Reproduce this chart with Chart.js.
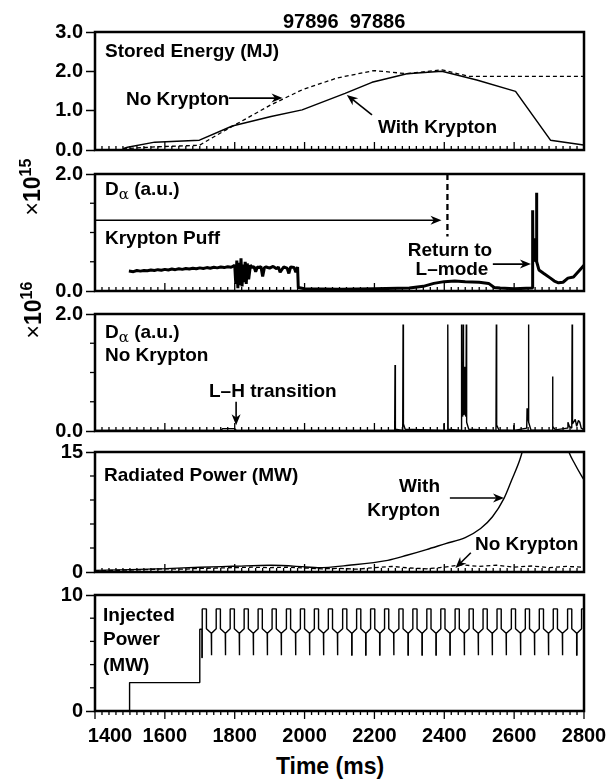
<!DOCTYPE html>
<html>
<head>
<meta charset="utf-8">
<script src="https://cdn.jsdelivr.net/npm/chart.js@4.4.1/dist/chart.umd.min.js"></script>
<style>
  body { margin: 0; background: #fff; width: 608px; height: 781px; overflow: hidden; position: relative;
         font-family: "Liberation Sans", Arial, sans-serif; font-weight: bold; color: #000; }
  canvas { position: absolute; left: 0; }
  .t { position: absolute; font-size: 19px; line-height: 1; white-space: nowrap; transform: translateY(-50%); }
  .r { transform: translate(-100%, -50%); }
  .c { transform: translate(-50%, -50%); }
  .t sub { font-size: 15px; font-weight: normal; font-family: "DejaVu Serif", serif; vertical-align: -4px; }
  .rot { position: absolute; font-size: 23px; line-height: 1; white-space: nowrap; transform: translate(-50%, -50%) rotate(-90deg); }
  .rot span.x { font-weight: normal; }
  .rot sup { font-size: 16px; vertical-align: 9px; }
</style>
</head>
<body>
<canvas id="c1" width="608" height="150"></canvas>
<canvas id="c2" width="608" height="149"></canvas>
<canvas id="c3" width="608" height="149"></canvas>
<canvas id="c4" width="608" height="152"></canvas>
<canvas id="c5" width="608" height="170"></canvas>

<div class="t" style="left:283px;top:21px;font-size:20px">97896&nbsp; 97886</div>

<div class="t" style="left:105px;top:50px">Stored Energy (MJ)</div>
<div class="t" style="left:126px;top:98px">No Krypton</div>
<div class="t" style="left:378px;top:126px">With Krypton</div>

<div class="rot" style="left:31px;top:187px"><span class="x">×</span>10<sup>15</sup></div>
<div class="t" style="left:105px;top:190px">D<sub>α</sub> (a.u.)</div>
<div class="t" style="left:105px;top:237px">Krypton Puff</div>
<div class="t c" style="left:450px;top:249px">Return to</div>
<div class="t c" style="left:452px;top:268px">L–mode</div>

<div class="rot" style="left:32px;top:310px"><span class="x">×</span>10<sup>16</sup></div>
<div class="t" style="left:105px;top:333px">D<sub>α</sub> (a.u.)</div>
<div class="t" style="left:105px;top:354px">No Krypton</div>
<div class="t" style="left:209px;top:390px">L–H transition</div>

<div class="t" style="left:104px;top:474px">Radiated Power (MW)</div>
<div class="t r" style="left:440px;top:485px">With</div>
<div class="t r" style="left:440px;top:509px">Krypton</div>
<div class="t" style="left:475px;top:543px">No Krypton</div>

<div class="t" style="left:103px;top:614px">Injected</div>
<div class="t" style="left:103px;top:638px">Power</div>
<div class="t" style="left:103px;top:664px">(MW)</div>

<div class="t c" style="left:330px;top:766px;font-size:23px">Time (ms)</div>

<script>
// time axis (ms)
const timeLabels = [1400, 1600, 1800, 2000, 2200, 2400, 2600, 2800];

// Stored energy (MJ)
const weKrT = [1480, 1493, 1571, 1699, 1793, 1904, 1993, 2116, 2193, 2293, 2393, 2493, 2604, 2704, 2799];
const weKr  = [0.03, 0.07, 0.20, 0.25, 0.61, 0.85, 1.02, 1.44, 1.72, 1.94, 2.00, 1.78, 1.49, 0.25, 0.13];
const weNoT = [1480, 1571, 1699, 1749, 1793, 1904, 1993, 2093, 2199, 2293, 2393, 2471, 2800];
const weNo  = [0.03, 0.08, 0.12, 0.38, 0.60, 1.15, 1.53, 1.83, 2.02, 1.94, 2.04, 1.87, 1.87];

// D-alpha with krypton puff (x1e15)
const daKrT = [1497, 1510, 1520, 1530, 1540, 1550, 1560, 1570, 1580, 1590,
  1600, 1610, 1620, 1630, 1640, 1650, 1660, 1670, 1680, 1690,
  1700, 1710, 1720, 1730, 1740, 1750, 1760, 1770, 1780, 1790,
  1800, 1803, 1806, 1809, 1812, 1815, 1818, 1821, 1824, 1827,
  1830, 1833, 1836, 1840, 1845, 1850, 1855, 1860, 1865, 1870,
  1875, 1880, 1885, 1890, 1900, 1910, 1920, 1925, 1930, 1940,
  1950, 1955, 1960, 1970, 1975, 1980, 1982, 2000, 2100, 2200,
  2300, 2340, 2370, 2400, 2430, 2460, 2500, 2527, 2543, 2560,
  2600, 2652, 2653, 2654, 2660, 2663, 2664, 2665, 2671, 2685,
  2704, 2715, 2727, 2740, 2754, 2770, 2788, 2800];
const daKr  = [0.34, 0.33, 0.35, 0.34, 0.35, 0.345, 0.36, 0.35, 0.365, 0.355,
  0.37, 0.36, 0.375, 0.365, 0.38, 0.37, 0.385, 0.375, 0.39, 0.38,
  0.395, 0.385, 0.40, 0.39, 0.405, 0.395, 0.41, 0.40, 0.415, 0.405,
  0.44, 0.12, 0.52, 0.05, 0.48, 0.10, 0.56, 0.08, 0.45, 0.15,
  0.50, 0.12, 0.47, 0.20, 0.44, 0.40, 0.42, 0.33, 0.41, 0.40,
  0.42, 0.25, 0.40, 0.41, 0.39, 0.42, 0.38, 0.41, 0.32, 0.41,
  0.39, 0.30, 0.41, 0.40, 0.32, 0.41, 0.06, 0.04, 0.03, 0.04,
  0.05, 0.08, 0.13, 0.16, 0.17, 0.16, 0.15, 0.13, 0.06, 0.05,
  0.04, 0.05, 1.38, 0.50, 0.90, 0.50, 1.68, 0.50, 0.36, 0.30,
  0.22, 0.17, 0.14, 0.15, 0.22, 0.24, 0.36, 0.44];

// D-alpha without krypton (x1e16)
const daNoT = [1400, 1760, 1765, 1800, 1805, 2258, 2259, 2260, 2281, 2282,
  2283, 2288, 2398, 2399, 2400, 2409, 2410, 2411, 2448, 2449,
  2450, 2453, 2454, 2455, 2457, 2458, 2459, 2462, 2463, 2464,
  2470, 2548, 2549, 2550, 2556, 2598, 2599, 2600, 2636, 2637,
  2639, 2640, 2641, 2642, 2648, 2709, 2710, 2711, 2718, 2752,
  2754, 2758, 2765, 2766, 2767, 2775, 2779, 2784, 2788, 2792,
  2800];
const daNo  = [0.01, 0.01, 0.04, 0.04, 0.01, 0.01, 1.13, 0.03, 0.01, 1.82,
  0.12, 0.03, 0.01, 0.13, 0.01, 0.01, 1.82, 0.03, 0.01, 1.82,
  0.30, 0.25, 1.82, 0.28, 0.30, 1.10, 0.30, 0.25, 1.82, 0.15,
  0.03, 0.01, 1.82, 0.10, 0.02, 0.01, 0.10, 0.01, 0.05, 0.39,
  0.20, 0.20, 1.82, 0.15, 0.02, 0.01, 0.93, 0.08, 0.02, 0.05,
  0.15, 0.08, 0.05, 1.82, 0.12, 0.20, 0.08, 0.18, 0.15, 0.05,
  0.02];

// Radiated power (MW)
const prKrT = [1400, 1500, 1604, 1700, 1793, 1904, 2004, 2038, 2127, 2238, 2293, 2349, 2404, 2460, 2504,
  2538, 2571, 2593, 2616, 2640, 2680, 2720, 2752, 2775, 2800];
const prKr  = [0.2, 0.3, 0.42, 0.6, 0.71, 0.84, 0.63, 0.54, 0.84, 1.46, 2.09, 2.8, 3.55, 4.3, 5.43,
  6.9, 9.2, 11.5, 14.0, 17.5, 22, 22, 15.6, 13.4, 11.5];
const prNoT = [1400, 1450, 1500, 1550, 1600, 1650, 1700, 1750, 1800, 1850, 1900, 1950, 2000, 2050, 2100,
  2150, 2200, 2250, 2300, 2350, 2400, 2450, 2500, 2550, 2600, 2650, 2700, 2750, 2800];
const prNo  = [0.15, 0.2, 0.25, 0.3, 0.4, 0.35, 0.45, 0.5, 0.55, 0.6, 0.55, 0.6, 0.5, 0.4, 0.45,
  0.35, 0.55, 0.7, 0.5, 0.4, 0.6, 0.9, 0.7, 0.85, 0.6, 0.75, 0.55, 0.7, 0.6];

// Injected power (MW): steps, then modulated beams
const pinjT = [1400, 1499, 1499, 1700, 1700, 1706, 1706, 1707];
const pinj  = [0, 0, 2.45, 2.45, 7.05, 7.05, 4.6, 4.6];
const pulseStarts = [1707, 1747, 1787, 1827, 1867, 1907, 1948, 1988, 2028, 2068, 2109, 2149, 2189, 2229,
  2270, 2310, 2350, 2390, 2431, 2471, 2511, 2551, 2592, 2632, 2672, 2712, 2753, 2793];
const pulseTop = 8.8, pulseBase = 7.1, pulseDip = 6.7, pulseLow = 4.8;

function zip(ts, vs) { return ts.map((t, i) => ({ x: t, y: vs[i] })); }

function injectedPoints() {
  const pts = zip(pinjT, pinj);
  pulseStarts.forEach(t0 => {
    pts.push({ x: t0, y: pulseBase }, { x: t0, y: pulseTop }, { x: t0 + 12, y: pulseTop },
             { x: t0 + 12, y: pulseBase }, { x: t0 + 26, y: pulseDip }, { x: t0 + 26, y: pulseLow },
             { x: t0 + 27, y: pulseLow }, { x: t0 + 27, y: pulseDip });
  });
  return pts;
}

const FONT = '"Liberation Sans", Arial, sans-serif';

function drawArrow(ctx, x0, y0, x1, y1) {
  const a = Math.atan2(y1 - y0, x1 - x0), L = 11, W = 4.5;
  const c = Math.cos(a), s = Math.sin(a);
  ctx.beginPath(); ctx.moveTo(x0, y0); ctx.lineTo(x1 - 6 * c, y1 - 6 * s); ctx.stroke();
  ctx.beginPath();
  ctx.moveTo(x1, y1);
  ctx.lineTo(x1 - L * c + W * s, y1 - L * s - W * c);
  ctx.lineTo(x1 - 0.7 * L * c, y1 - 0.7 * L * s);
  ctx.lineTo(x1 - L * c - W * s, y1 - L * s + W * c);
  ctx.closePath(); ctx.fill();
}

function deco(cfg) {
  return {
    id: 'deco',
    afterDatasetsDraw(chart) {
      const { ctx, chartArea: a, scales: { x, y } } = chart;
      ctx.save();
      ctx.strokeStyle = '#000'; ctx.fillStyle = '#000';
      // frame
      ctx.lineWidth = 2.5;
      ctx.strokeRect(a.left, a.top, a.right - a.left, a.bottom - a.top);
      // time ticks every 20 ms
      ctx.lineWidth = 1.3;
      for (let t = 1400; t <= 2800; t += 20) {
        const px = x.getPixelForValue(t);
        const len = t % 200 === 0 ? 8 : 4;
        ctx.beginPath();
        ctx.moveTo(px, a.bottom);
        ctx.lineTo(px, cfg.ticksOut ? a.bottom + len : a.bottom - len);
        ctx.stroke();
      }
      // minor value ticks
      y.ticks.forEach(tk => {
        if (cfg.yLabels.includes(tk.value)) return;
        const py = y.getPixelForValue(tk.value);
        ctx.beginPath(); ctx.moveTo(a.left, py); ctx.lineTo(a.left - 5, py); ctx.stroke();
      });
      // dashed markers
      (cfg.vlines || []).forEach(v => {
        ctx.save();
        ctx.lineWidth = 2.3; ctx.setLineDash([6, 4]);
        const px = x.getPixelForValue(v.t);
        ctx.beginPath(); ctx.moveTo(px, y.getPixelForValue(v.from)); ctx.lineTo(px, y.getPixelForValue(v.to)); ctx.stroke();
        ctx.restore();
      });
      // arrows
      ctx.lineWidth = 1.6;
      (cfg.arrows || []).forEach(ar => {
        drawArrow(ctx, x.getPixelForValue(ar[0]), y.getPixelForValue(ar[1]),
                       x.getPixelForValue(ar[2]), y.getPixelForValue(ar[3]));
      });
      // time labels on the bottom panel
      if (cfg.timeLabels) {
        ctx.font = 'bold 20px ' + FONT;
        ctx.textAlign = 'center'; ctx.textBaseline = 'middle';
        timeLabels.forEach((t, i) => {
          const shift = i === 0 ? 15 : 0;
          ctx.fillText(String(t), x.getPixelForValue(t) + shift, a.bottom + 25);
        });
      }
      ctx.restore();
    }
  };
}

function line(pts, width, dash) {
  return { data: pts, borderColor: '#000', borderWidth: width, borderDash: dash || [],
           borderJoinStyle: 'bevel', pointRadius: 0, fill: false, tension: 0 };
}

function panel(id, top, bottom, padBottom, y, datasets, cfg) {
  const cv = document.getElementById(id);
  cv.style.top = (top - 16) + 'px';
  new Chart(cv, {
    type: 'line',
    data: { datasets },
    options: {
      responsive: false, animation: false, events: [],
      layout: { padding: { left: 0, right: 24, top: 16, bottom: padBottom } },
      plugins: { legend: { display: false }, tooltip: { enabled: false } },
      scales: {
        x: { type: 'linear', min: 1400, max: 2800, display: false },
        y: {
          min: 0, max: y.max,
          afterFit: s => { s.width = 95; },
          border: { display: false },
          grid: { drawOnChartArea: false, drawTicks: true, tickLength: 9, tickWidth: 1.5,
                  tickColor: c => cfg.yLabels.includes(c.tick.value) ? '#000' : 'rgba(0,0,0,0)' },
          ticks: { stepSize: y.step, padding: 3, color: '#000', autoSkip: false,
                   font: { family: FONT, weight: 'bold', size: 20 },
                   callback: v => cfg.yLabels.includes(v) ? y.fmt(v) : '' }
        }
      }
    },
    plugins: [deco(cfg)]
  });
}

const f1 = v => v.toFixed(1), f0 = v => String(v);

panel('c1', 32, 150, 16, { max: 3, step: 1, fmt: f1 },
  [line(zip(weKrT, weKr), 1.5), line(zip(weNoT, weNo), 1.3, [4, 3])],
  { yLabels: [0, 1, 2, 3], arrows: [[1783, 1.32, 1937, 1.32], [2193, 0.89, 2121, 1.40]] });

panel('c2', 174, 291, 16, { max: 2, step: 0.5, fmt: f1 },
  [line(zip(daKrT, daKr), 3)],
  { yLabels: [0, 2], vlines: [{ t: 2409, from: 2.0, to: 0.93 }],
    arrows: [[1400, 1.21, 2392, 1.21], [2539, 0.46, 2648, 0.46]] });

panel('c3', 314, 431, 16, { max: 2, step: 0.5, fmt: f1 },
  [line(zip(daNoT, daNo), 1.4)],
  { yLabels: [0, 2], arrows: [[1804, 0.5, 1804, 0.1]] });

panel('c4', 452, 572, 16, { max: 15, step: 3, fmt: f0 },
  [Object.assign(line(zip(prKrT, prKr), 1.4), { cubicInterpolationMode: 'monotone' }),
   line(zip(prNoT, prNo), 1.3, [4, 3])],
  { yLabels: [0, 15], arrows: [[2416, 9.25, 2571, 9.25], [2476, 2.4, 2432, 0.5]] });

panel('c5', 595, 711, 38, { max: 10, step: 2, fmt: f0 },
  [line(injectedPoints(), 1.4)],
  { yLabels: [0, 10], ticksOut: true, timeLabels: true });
</script>
</body>
</html>
